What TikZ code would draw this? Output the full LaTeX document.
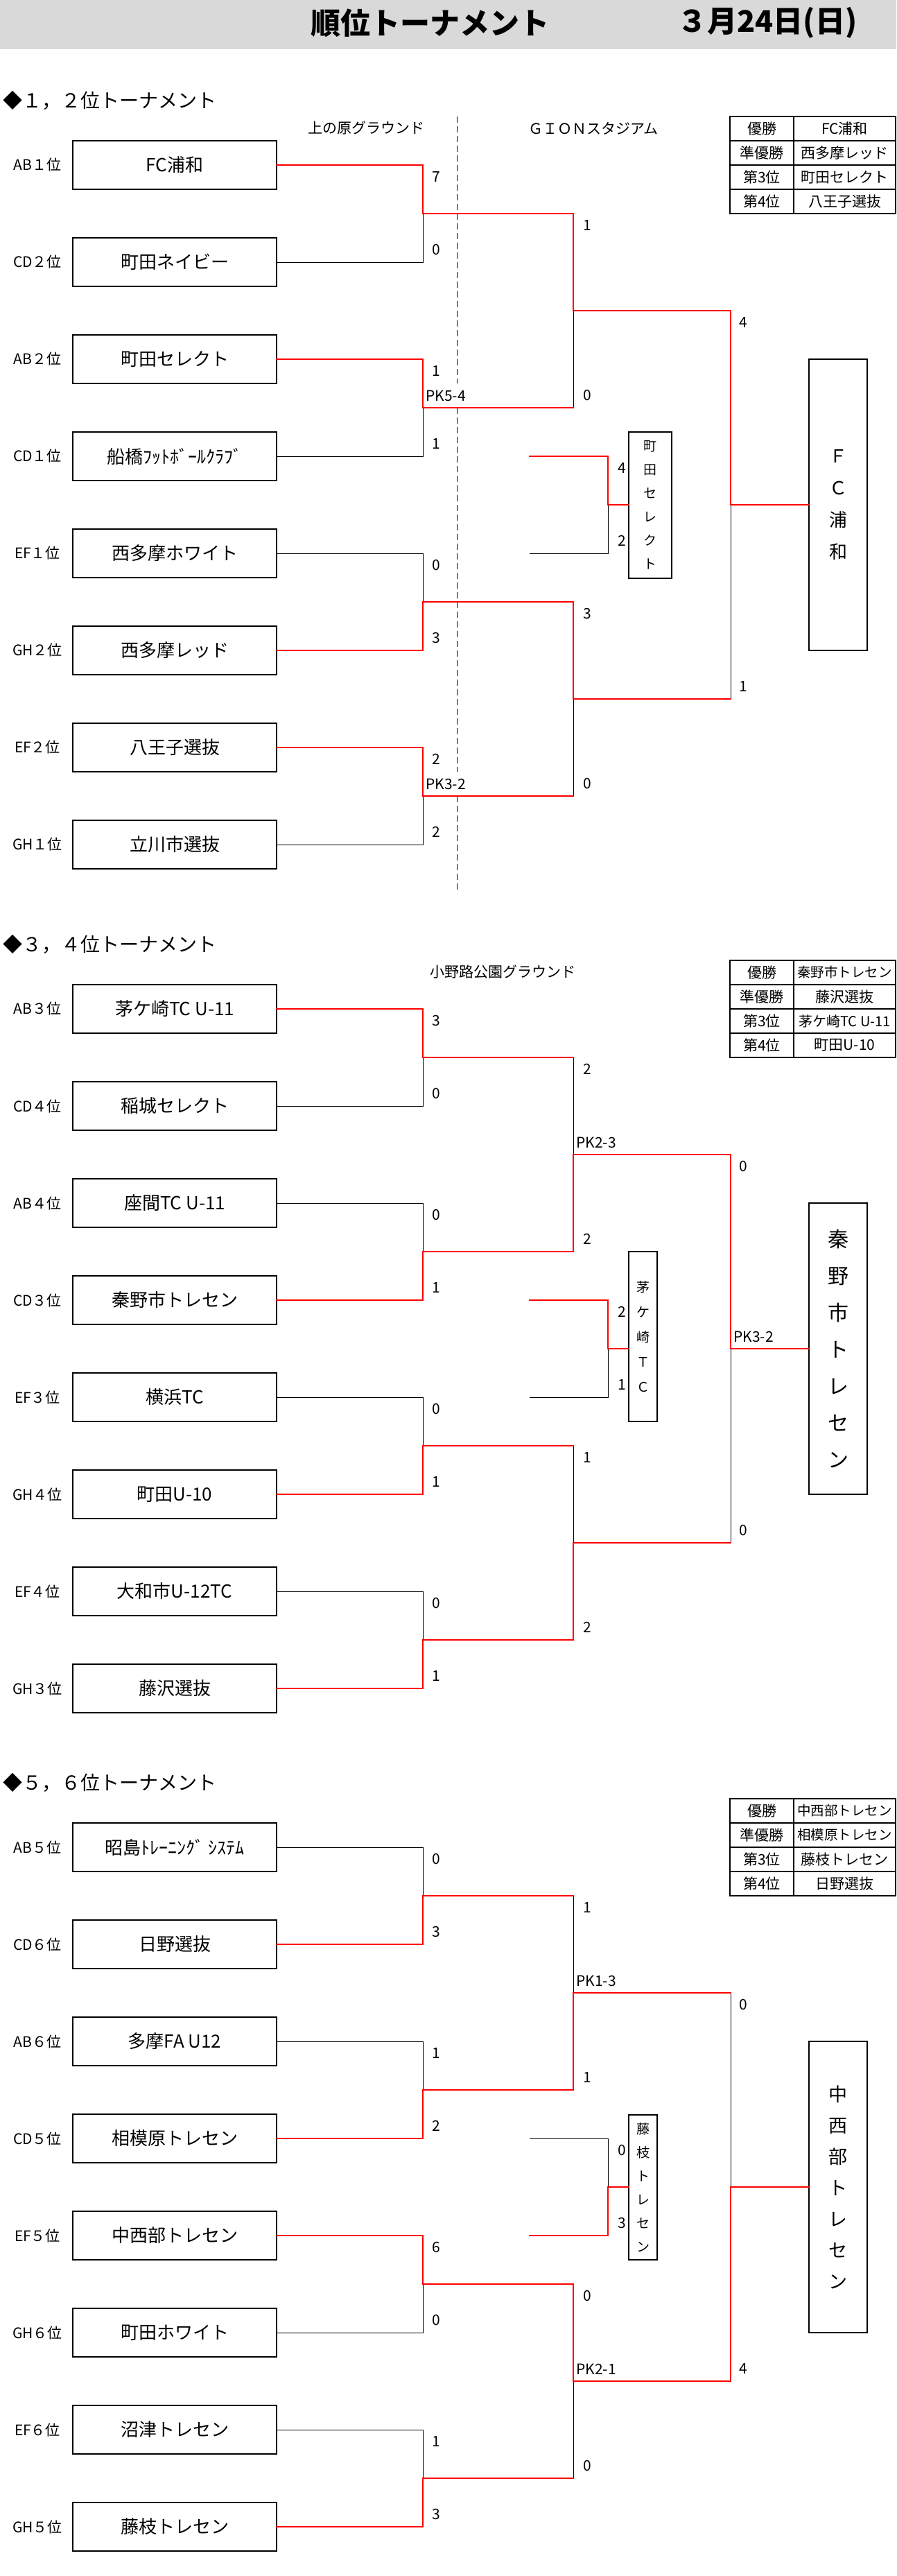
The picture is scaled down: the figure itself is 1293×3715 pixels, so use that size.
\documentclass[tikz,border=0pt]{standalone}
\usepackage{fontspec}
\setmainfont{Noto Sans CJK JP}
\definecolor{titlegray}{RGB}{217,217,217}
\newcommand{\myfs}[2]{\fontsize{#1pt}{#2pt}\selectfont}
\tikzset{
  team/.style={draw, line width=1.3pt, minimum width=294pt, minimum height=70pt, inner sep=0pt, font=\myfs{26}{30}},
  lbl/.style={font=\myfs{21}{24}, inner sep=0pt},
  score/.style={font=\myfs{21}{24}, inner sep=0pt},
  pk/.style={font=\myfs{21}{24}, inner xsep=0pt, inner ysep=0pt, minimum height=35pt, anchor=west, fill=white},
  win/.style={draw=red, line width=2.8pt, line cap=rect},
  lose/.style={draw=black, line width=1pt},
  champ/.style={draw, line width=1.2pt, minimum width=84pt, minimum height=420pt, inner sep=0pt, align=center},
  third/.style={draw, line width=1.2pt, inner sep=0pt, align=center},
  hdr/.style={font=\myfs{28}{32}, anchor=west, inner sep=0pt},
  venue/.style={font=\myfs{21}{24}, inner sep=0pt},
  tcell/.style={font=\myfs{21}{24}, inner sep=0pt},
  tabline/.style={draw=black, line width=1.3pt},
}
\newcommand{\secgeom}[1]{%
  \coordinate (#1j12) at (610,308);
  \coordinate (#1j34) at (610,588);
  \coordinate (#1j56) at (610,868);
  \coordinate (#1j78) at (610,1148);
  \coordinate (#1j1234) at (827,448);
  \coordinate (#1j5678) at (827,1008);
  \coordinate (#1jf) at (1054,728);
  \coordinate (#1p1) at (764,658);
  \coordinate (#1p2) at (764,798);
  \coordinate (#1pj) at (877,728);
}
\newcommand{\teamrow}[4]{%
  \node[team] (#1) at (252,#2) {#4};
  \node[lbl] (#1l) at (54,#2) {#3};
}
\newcommand{\roundone}[9]{%
  \node[score] (#1s1) at (629,255) {#2};
  \node[score] (#1s2) at (629,360) {#3};
  \node[score] (#1s3) at (629,535) {#4};
  \node[score] (#1s4) at (629,640) {#5};
  \node[score] (#1s5) at (629,815) {#6};
  \node[score] (#1s6) at (629,920) {#7};
  \node[score] (#1s7) at (629,1095) {#8};
  \node[score] (#1s8) at (629,1200) {#9};
}
\newcommand{\roundrest}[9]{%
  \node[score] (#1r1) at (847,325) {#2};
  \node[score] (#1r2) at (847,570) {#3};
  \node[score] (#1r3) at (847,885) {#4};
  \node[score] (#1r4) at (847,1130) {#5};
  \node[score] (#1f1) at (1072,465) {#6};
  \node[score] (#1f2) at (1072,990) {#7};
  \node[score] (#1t1) at (897,675) {#8};
  \node[score] (#1t2) at (897,780) {#9};
}
\newcommand{\ranktable}[5]{%
  \draw[tabline] (1053,168) rectangle (1292,308);
  \draw[tabline] (1053,203) -- (1292,203) (1053,238) -- (1292,238) (1053,273) -- (1292,273) (1145,168) -- (1145,308);
  \node[tcell] (#1k1) at (1099,185.5) {優勝};
  \node[tcell] (#1k2) at (1099,220.5) {準優勝};
  \node[tcell] (#1k3) at (1099,255.5) {第3位};
  \node[tcell] (#1k4) at (1099,290.5) {第4位};
  \node[tcell] (#1n1) at (1218.5,185.5) {#2};
  \node[tcell] (#1n2) at (1218.5,220.5) {#3};
  \node[tcell] (#1n3) at (1218.5,255.5) {#4};
  \node[tcell] (#1n4) at (1218.5,290.5) {#5};
}
\begin{document}
\begin{tikzpicture}[x=1pt,y=-1pt]
\useasboundingbox (0,0) rectangle (1293,3715);
\fill[titlegray] (0,0) rectangle (1293,71);
\node[font=\bfseries\myfs{43}{48}, inner sep=0pt] (title) at (620,33) {順位トーナメント};
\node[font=\bfseries\myfs{43}{48}, inner sep=0pt] (date) at (1107,33) {３月24日(日)};

% ================= Section 1 =================
\begin{scope}
\secgeom{a}
\node[hdr] (ah) at (4,145) {◆１，２位トーナメント};
\node[venue] (av1) at (528,185) {上の原グラウンド};
\node[venue] (av2) at (856,185) {ＧＩＯＮスタジアム};
\coordinate (adash1) at (659,168);
\coordinate (adash2) at (659,1288);
\draw[line width=1pt, dash pattern=on 9pt off 5pt] (adash1) -- (adash2);
\node[pk] (apk1) at (614,570.5) {PK5-4};
\node[pk] (apk2) at (614,1130.5) {PK3-2};
\ranktable{a}{FC浦和}{西多摩レッド}{町田セレクト}{八王子選抜}
\teamrow{a1}{238}{AB１位}{FC浦和}
\teamrow{a2}{378}{CD２位}{町田ネイビー}
\teamrow{a3}{518}{AB２位}{町田セレクト}
\teamrow{a4}{658}{CD１位}{船橋ﾌｯﾄﾎﾞｰﾙｸﾗﾌﾞ}
\teamrow{a5}{798}{EF１位}{西多摩ホワイト}
\teamrow{a6}{938}{GH２位}{西多摩レッド}
\teamrow{a7}{1078}{EF２位}{八王子選抜}
\teamrow{a8}{1218}{GH１位}{立川市選抜}
\node[champ, font=\myfs{26}{46}] (achamp) at (1209,728) {Ｆ\\Ｃ\\浦\\和};
\node[third, minimum width=62pt, minimum height=211pt, font=\myfs{19}{34}] (athird) at (938,728.5) {町\\田\\セ\\レ\\ク\\ト};
% losers
\draw[lose] (a2.east) -| (aj12);
\draw[lose] (a4.east) -| (aj34);
\draw[lose] (a5.east) -| (aj56);
\draw[lose] (a8.east) -| (aj78);
\draw[lose] (aj34) -| (aj1234);
\draw[lose] (aj78) -| (aj5678);
\draw[lose] (aj5678) -| (ajf);
\draw[lose] (ap2) -| (apj);
% winners
\draw[win] (a1.east) -| (aj12);
\draw[win] (a3.east) -| (aj34);
\draw[win] (a6.east) -| (aj56);
\draw[win] (a7.east) -| (aj78);
\draw[win] (aj12) -| (aj1234);
\draw[win] (aj56) -| (aj5678);
\draw[win] (aj1234) -| (ajf);
\draw[win] (ap1) -| (apj);
\draw[win] (aj34) -- (aj34 -| aj1234);
\draw[win] (aj78) -- (aj78 -| aj5678);
\draw[win] (aj5678) -- (aj5678 -| ajf);
\draw[win] (ajf) -- (achamp.west);
\draw[win] (apj) -- (apj -| athird.west);
\roundone{a}{7}{0}{1}{1}{0}{3}{2}{2}
\roundrest{a}{1}{0}{3}{0}{4}{1}{4}{2}
\end{scope}

% ================= Section 2 =================
\begin{scope}[yshift=-1217pt]
\secgeom{b}
\node[hdr] (bh) at (4,145) {◆３，４位トーナメント};
\node[venue] (bv1) at (725,185) {小野路公園グラウンド};
\node[pk] (bpk1) at (831,430.5) {PK2-3};
\node[pk] (bpk2) at (1058,710.5) {PK3-2};
\ranktable{b}{\myfs{19.5}{22}秦野市トレセン}{藤沢選抜}{\myfs{20}{22}茅ケ崎TC U-11}{町田U-10}
\teamrow{b1}{238}{AB３位}{茅ケ崎TC U-11}
\teamrow{b2}{378}{CD４位}{稲城セレクト}
\teamrow{b3}{518}{AB４位}{座間TC U-11}
\teamrow{b4}{658}{CD３位}{秦野市トレセン}
\teamrow{b5}{798}{EF３位}{横浜TC}
\teamrow{b6}{938}{GH４位}{町田U-10}
\teamrow{b7}{1078}{EF４位}{大和市U-12TC}
\teamrow{b8}{1218}{GH３位}{藤沢選抜}
\node[champ, font=\myfs{30}{53}] (bchamp) at (1209,728) {秦\\野\\市\\ト\\レ\\セ\\ン};
\node[third, minimum width=41pt, minimum height=245pt, font=\myfs{19}{36}] (bthird) at (927.5,710.5) {茅\\ケ\\崎\\Ｔ\\Ｃ};
% losers
\draw[lose] (b2.east) -| (bj12);
\draw[lose] (b3.east) -| (bj34);
\draw[lose] (b5.east) -| (bj56);
\draw[lose] (b7.east) -| (bj78);
\draw[lose] (bj12) -| (bj1234);
\draw[lose] (bj56) -| (bj5678);
\draw[lose] (bj5678) -| (bjf);
\draw[lose] (bp2) -| (bpj);
% winners
\draw[win] (b1.east) -| (bj12);
\draw[win] (b4.east) -| (bj34);
\draw[win] (b6.east) -| (bj56);
\draw[win] (b8.east) -| (bj78);
\draw[win] (bj34) -| (bj1234);
\draw[win] (bj78) -| (bj5678);
\draw[win] (bj1234) -| (bjf);
\draw[win] (bp1) -| (bpj);
\draw[win] (bj12) -- (bj12 -| bj1234);
\draw[win] (bj56) -- (bj56 -| bj5678);
\draw[win] (bj5678) -- (bj5678 -| bjf);
\draw[win] (bjf) -- (bchamp.west);
\draw[win] (bpj) -- (bpj -| bthird.west);
\roundone{b}{3}{0}{0}{1}{0}{1}{0}{1}
\roundrest{b}{2}{2}{1}{2}{0}{0}{2}{1}
\end{scope}

% ================= Section 3 =================
\begin{scope}[yshift=-2426pt]
\secgeom{c}
\node[hdr] (ch) at (4,145) {◆５，６位トーナメント};
\node[pk] (cpk1) at (831,430.5) {PK1-3};
\node[pk] (cpk2) at (831,990.5) {PK2-1};
\ranktable{c}{\myfs{19.5}{22}中西部トレセン}{\myfs{19.5}{22}相模原トレセン}{藤枝トレセン}{日野選抜}
\teamrow{c1}{238}{AB５位}{昭島ﾄﾚｰﾆﾝｸﾞ ｼｽﾃﾑ}
\teamrow{c2}{378}{CD６位}{日野選抜}
\teamrow{c3}{518}{AB６位}{多摩FA U12}
\teamrow{c4}{658}{CD５位}{相模原トレセン}
\teamrow{c5}{798}{EF５位}{中西部トレセン}
\teamrow{c6}{938}{GH６位}{町田ホワイト}
\teamrow{c7}{1078}{EF６位}{沼津トレセン}
\teamrow{c8}{1218}{GH５位}{藤枝トレセン}
\node[champ, font=\myfs{27}{45}] (cchamp) at (1209,728) {中\\西\\部\\ト\\レ\\セ\\ン};
\node[third, minimum width=41pt, minimum height=209pt, font=\myfs{19}{34}] (cthird) at (927.5,728.5) {藤\\枝\\ト\\レ\\セ\\ン};
% losers
\draw[lose] (c1.east) -| (cj12);
\draw[lose] (c3.east) -| (cj34);
\draw[lose] (c6.east) -| (cj56);
\draw[lose] (c7.east) -| (cj78);
\draw[lose] (cj12) -| (cj1234);
\draw[lose] (cj78) -| (cj5678);
\draw[lose] (cj1234) -| (cjf);
\draw[lose] (cp1) -| (cpj);
% winners
\draw[win] (c2.east) -| (cj12);
\draw[win] (c4.east) -| (cj34);
\draw[win] (c5.east) -| (cj56);
\draw[win] (c8.east) -| (cj78);
\draw[win] (cj34) -| (cj1234);
\draw[win] (cj56) -| (cj5678);
\draw[win] (cj5678) -| (cjf);
\draw[win] (cp2) -| (cpj);
\draw[win] (cj12) -- (cj12 -| cj1234);
\draw[win] (cj78) -- (cj78 -| cj5678);
\draw[win] (cj1234) -- (cj1234 -| cjf);
\draw[win] (cjf) -- (cchamp.west);
\draw[win] (cpj) -- (cpj -| cthird.west);
\roundone{c}{0}{3}{1}{2}{6}{0}{1}{3}
\roundrest{c}{1}{1}{0}{0}{0}{4}{0}{3}
\end{scope}
\end{tikzpicture}
\end{document}
